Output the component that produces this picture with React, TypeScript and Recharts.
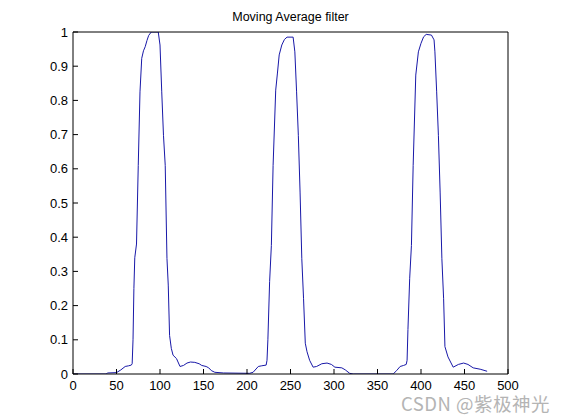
import React from 'react';
import { LineChart, Line, XAxis, YAxis } from 'recharts';

const xValues = [0, 38, 40, 50, 55, 60, 64, 67, 68, 69, 70, 71, 73, 75, 77, 79, 81, 83, 85, 87, 90, 98, 100, 102, 104, 106, 108, 109.5, 111, 113, 115, 119, 123, 127, 131, 135, 140, 145, 148, 153, 156, 159, 163, 173, 203, 207, 213, 217, 222, 223, 224, 226, 228, 230, 233, 235, 237, 240, 243, 246, 253, 255, 257, 259, 261, 263, 265, 267, 269, 272, 276, 280, 286, 292, 297, 301, 309, 313, 318, 322, 368, 372, 376, 380, 383, 384, 385, 387, 389, 391, 394, 397, 400, 403, 406, 412, 415, 416, 418, 420, 422, 424, 426, 427.5, 431, 437, 443, 449, 454, 460, 468, 476];
const yValues = [0, 0, 0.003, 0.004, 0.012, 0.022, 0.024, 0.026, 0.03, 0.1, 0.25, 0.34, 0.38, 0.61, 0.825, 0.923, 0.945, 0.957, 0.975, 0.99, 1.0, 1.0, 0.962, 0.825, 0.698, 0.61, 0.338, 0.26, 0.113, 0.075, 0.055, 0.045, 0.022, 0.025, 0.032, 0.035, 0.034, 0.03, 0.025, 0.022, 0.018, 0.01, 0.005, 0.003, 0.002, 0.005, 0.022, 0.024, 0.026, 0.04, 0.1, 0.27, 0.376, 0.61, 0.83, 0.88, 0.933, 0.962, 0.978, 0.985, 0.985, 0.942, 0.825, 0.698, 0.532, 0.337, 0.22, 0.09, 0.065, 0.04, 0.02, 0.022, 0.03, 0.032, 0.028, 0.02, 0.018, 0.012, 0.002, 0, 0, 0.01, 0.022, 0.025, 0.028, 0.04, 0.13, 0.28, 0.376, 0.61, 0.874, 0.942, 0.967, 0.986, 0.993, 0.991, 0.977, 0.942, 0.825, 0.698, 0.532, 0.337, 0.22, 0.08, 0.05, 0.02, 0.028, 0.032, 0.028, 0.018, 0.014, 0.008];

const xTicks = [0, 50, 100, 150, 200, 250, 300, 350, 400, 450, 500];
const yTicks = [0, 0.1, 0.2, 0.3, 0.4, 0.5, 0.6, 0.7, 0.8, 0.9, 1];
const yTickLabels = ['0', '0.1', '0.2', '0.3', '0.4', '0.5', '0.6', '0.7', '0.8', '0.9', '1'];
const titleText = 'Moving Average filter';
const watermarkText = 'CSDN @紫极神光';

const data = xValues.map((x, i) => ({ x, y: yValues[i] }));

const FONT = '"Liberation Sans", Arial, Helvetica, sans-serif';
const tickStyle = { fontSize: 13, fill: '#000', fontFamily: FONT };

export default function App() {
  return (
    <div style={{ position: 'absolute', left: 0, top: 0, width: 561, height: 420, background: '#fff', overflow: 'hidden' }}>
      <div
        style={{
          position: 'absolute',
          left: 0,
          width: 581,
          top: 9,
          textAlign: 'center',
          fontFamily: FONT,
          fontSize: 12.5,
          lineHeight: '16px',
          color: '#000',
        }}
      >
        {titleText}
      </div>
      <LineChart width={561} height={420} data={data} margin={{ top: 30, right: 51, bottom: 16, left: 33 }}>
        <XAxis
          xAxisId="bottom"
          dataKey="x"
          type="number"
          domain={[0, 500]}
          ticks={xTicks}
          allowDataOverflow
          height={30}
          tickSize={-5}
          tickMargin={12}
          stroke="#000"
          tick={tickStyle}
          interval={0}
        />
        <XAxis
          xAxisId="top"
          orientation="top"
          dataKey="x"
          type="number"
          domain={[0, 500]}
          ticks={xTicks}
          allowDataOverflow
          height={2}
          tickSize={-5}
          stroke="#000"
          tick={false}
          interval={0}
        />
        <YAxis
          yAxisId="left"
          type="number"
          domain={[0, 1]}
          ticks={yTicks}
          allowDataOverflow
          width={40}
          tickSize={-5}
          tickMargin={10}
          stroke="#000"
          tick={tickStyle}
          tickFormatter={(v: number) => yTickLabels[yTicks.indexOf(v)] ?? String(v)}
          interval={0}
        />
        <YAxis
          yAxisId="right"
          orientation="right"
          type="number"
          domain={[0, 1]}
          ticks={yTicks}
          allowDataOverflow
          width={2}
          tickSize={-5}
          stroke="#000"
          tick={false}
          interval={0}
        />
        <Line
          xAxisId="bottom"
          yAxisId="left"
          type="linear"
          dataKey="y"
          stroke="#1818a8"
          strokeWidth={1}
          dot={false}
          activeDot={false}
          isAnimationActive={false}
        />
      </LineChart>
      <div
        style={{
          position: 'absolute',
          left: 401,
          top: 397,
          fontFamily: '"Noto Sans CJK SC", "Noto Sans", sans-serif',
          fontSize: 18.5,
          lineHeight: '12px',
          letterSpacing: 0.5,
          color: '#b4b4b4',
          whiteSpace: 'nowrap',
        }}
      >
        {watermarkText}
      </div>
    </div>
  );
}
